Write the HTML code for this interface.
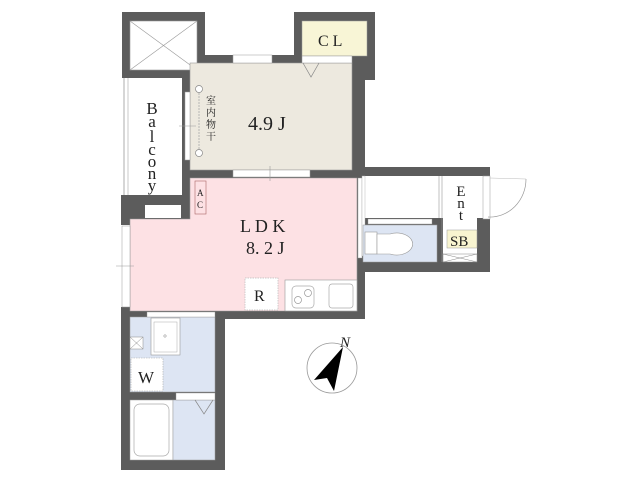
<!DOCTYPE html>
<html><head><meta charset="utf-8"><style>
html,body{margin:0;padding:0;background:#fff;}
svg{display:block;}
text{font-family:"Liberation Serif","Noto Serif CJK SC",serif;fill:#222;}
</style></head><body>
<svg width="640" height="480" viewBox="0 0 640 480" xmlns="http://www.w3.org/2000/svg">
<rect width="640" height="480" fill="#fff"/>
<g fill="#5c5c5c">
<rect x="122" y="12" width="83" height="66"/>
<rect x="182" y="55" width="8" height="165"/>
<rect x="182" y="55" width="113" height="8"/>
<rect x="294" y="12" width="81" height="68"/>
<rect x="352" y="60" width="13" height="117"/>
<rect x="182" y="170" width="183" height="8"/>
<rect x="121" y="195" width="69" height="24"/>
<rect x="121" y="195" width="9" height="30"/>
<rect x="357" y="170" width="8" height="148"/>
<rect x="215" y="311" width="150" height="8"/>
<rect x="278" y="278" width="7" height="40"/>
<rect x="121" y="307" width="104" height="163"/>
<rect x="362" y="167" width="128" height="9"/>
<rect x="360" y="218" width="78" height="54"/>
<rect x="437" y="218" width="6" height="54"/>
<rect x="477" y="218" width="13" height="54"/>
<rect x="362" y="262" width="128" height="10"/>
</g>
<rect x="130" y="21" width="67" height="49" fill="#fff" stroke="#999" stroke-width="0.6"/>
<line x1="130" y1="21" x2="197" y2="70" stroke="#999" stroke-width="0.6"/>
<line x1="197" y1="21" x2="130" y2="70" stroke="#999" stroke-width="0.6"/>
<rect x="124" y="78" width="58" height="117" fill="#fff"/>
<line x1="124" y1="78" x2="124" y2="195" stroke="#999" stroke-width="0.8"/>
<line x1="128" y1="78" x2="128" y2="195" stroke="#bbb" stroke-width="0.8"/>
<text font-size="17" text-anchor="middle">
<tspan x="152" y="114">B</tspan><tspan x="152" y="127">a</tspan><tspan x="152" y="142">l</tspan><tspan x="152" y="155">c</tspan><tspan x="152" y="167">o</tspan><tspan x="152" y="179">n</tspan><tspan x="152" y="191">y</tspan>
</text>
<rect x="190" y="63" width="162" height="107" fill="#ede9df" stroke="#999" stroke-width="0.6"/>
<rect x="233" y="55" width="39" height="8" fill="#fff" stroke="#999" stroke-width="0.5"/>
<rect x="185" y="92" width="5" height="68" fill="#fff" stroke="#999" stroke-width="0.5"/>
<line x1="179" y1="126" x2="196" y2="126" stroke="#999" stroke-width="0.6"/>
<line x1="199" y1="90" x2="199" y2="153" stroke="#aaa" stroke-width="0.8" stroke-dasharray="2 1"/>
<circle cx="199" cy="89" r="3.5" fill="#fff" stroke="#888" stroke-width="0.7"/>
<circle cx="199" cy="153" r="3.5" fill="#fff" stroke="#888" stroke-width="0.7"/>
<text x="206" y="104" font-size="10">室</text>
<text x="206" y="116" font-size="10">内</text>
<text x="206" y="128" font-size="10">物</text>
<text x="206" y="140" font-size="10">干</text>
<text x="248" y="130" font-size="20">4.9 J</text>
<rect x="302" y="21" width="65" height="35" fill="#f8f5d6" stroke="#999" stroke-width="0.5"/>
<rect x="302" y="56" width="50" height="7" fill="#fff" stroke="#999" stroke-width="0.5"/>
<text x="318" y="46" font-size="16">C L</text>
<polyline points="303,63 311,77 319,63" fill="none" stroke="#888" stroke-width="0.7"/>
<path d="M190 178 H357 V311 H130 V219 H190 Z" fill="#fde1e4" stroke="#999" stroke-width="0.6"/>
<rect x="233" y="170" width="77" height="7" fill="#fff" stroke="#999" stroke-width="0.5"/>
<line x1="270" y1="166" x2="270" y2="181" stroke="#999" stroke-width="0.6"/>
<rect x="145" y="205" width="36" height="13" fill="#fff"/>
<rect x="122" y="226" width="8" height="81" fill="#fff" stroke="#999" stroke-width="0.5"/>
<line x1="116" y1="266" x2="134" y2="266" stroke="#999" stroke-width="0.6"/>
<rect x="358" y="178" width="4" height="80" fill="#fff" stroke="#999" stroke-width="0.4"/>
<rect x="195" y="181" width="11" height="33" fill="#fde1e4" stroke="#a66" stroke-width="0.6"/>
<text x="197" y="196" font-size="9">A</text>
<text x="197" y="208" font-size="9">C</text>
<text x="240" y="232" font-size="18">L D K</text>
<text x="246" y="254" font-size="18">8. 2 J</text>
<rect x="245" y="278" width="33" height="32" fill="#fff" stroke="#bbb" stroke-width="0.7" stroke-dasharray="1.5 1"/>
<text x="254" y="301" font-size="16">R</text>
<rect x="285" y="280" width="72" height="31" fill="#fff" stroke="#999" stroke-width="0.6"/>
<rect x="292" y="286" width="22" height="22" rx="4" fill="#fff" stroke="#aaa" stroke-width="0.7"/>
<circle cx="298" cy="300" r="3.5" fill="none" stroke="#999" stroke-width="0.7"/>
<circle cx="308" cy="293" r="3.5" fill="none" stroke="#999" stroke-width="0.7"/>
<rect x="329" y="284" width="24" height="24" rx="3" fill="#fff" stroke="#aaa" stroke-width="0.7"/>
<rect x="130" y="317" width="85" height="75" fill="#dde5f3" stroke="#999" stroke-width="0.5"/>
<rect x="147" y="312" width="68" height="5" fill="#fff" stroke="#999" stroke-width="0.4"/>
<rect x="151" y="318" width="29" height="37" fill="#fff" stroke="#999" stroke-width="0.6"/>
<rect x="154" y="322" width="23" height="30" fill="none" stroke="#aaa" stroke-width="0.5"/>
<circle cx="165" cy="336" r="1.2" fill="none" stroke="#777" stroke-width="0.5"/>
<rect x="130" y="337" width="13" height="12" fill="#fff" stroke="#888" stroke-width="0.5"/>
<line x1="130" y1="337" x2="143" y2="349" stroke="#888" stroke-width="0.5"/>
<line x1="143" y1="337" x2="130" y2="349" stroke="#888" stroke-width="0.5"/>
<rect x="131" y="358" width="32" height="33" fill="#fff" stroke="#aaa" stroke-width="0.6" stroke-dasharray="1.5 1"/>
<text x="138" y="383" font-size="17">W</text>
<rect x="130" y="400" width="43" height="60" fill="#fff" stroke="#999" stroke-width="0.5"/>
<rect x="134" y="404" width="35" height="52" rx="6" fill="#fff" stroke="#aaa" stroke-width="0.7"/>
<rect x="173" y="400" width="42" height="60" fill="#dde5f3" stroke="#999" stroke-width="0.5"/>
<rect x="176" y="393" width="39" height="7" fill="#fff" stroke="#999" stroke-width="0.4"/>
<polyline points="195,400 204,414 213,400" fill="none" stroke="#888" stroke-width="0.7"/>
<rect x="362" y="176" width="78" height="42" fill="#fff"/>
<rect x="362" y="176" width="3" height="80" fill="#fff" stroke="#aaa" stroke-width="0.4"/>
<line x1="439" y1="176" x2="439" y2="218" stroke="#999" stroke-width="0.6"/>
<line x1="442" y1="176" x2="442" y2="262" stroke="#999" stroke-width="0.6"/>
<rect x="443" y="176" width="40" height="42" fill="#fff"/>
<rect x="443" y="218" width="34" height="44" fill="#fff"/>
<rect x="483" y="176" width="7" height="43" fill="#fff" stroke="#999" stroke-width="0.5"/>
<rect x="363" y="225" width="74" height="37" fill="#dde5f3" stroke="#999" stroke-width="0.5"/>
<rect x="368" y="219" width="64" height="5" fill="#fff" stroke="#999" stroke-width="0.4"/>
<rect x="365" y="232" width="12" height="22" fill="#fff" stroke="#999" stroke-width="0.6"/>
<path d="M377 234 H390 A16 11 0 1 1 390 254 H377 Z" fill="#fff" stroke="#999" stroke-width="0.6"/>
<text font-size="15" text-anchor="middle">
<tspan x="461" y="196">E</tspan><tspan x="461" y="208">n</tspan><tspan x="461" y="220">t</tspan>
</text>
<rect x="447" y="230" width="30" height="18" fill="#f8f4d0" stroke="#999" stroke-width="0.5"/>
<text x="450" y="246" font-size="15">SB</text>
<rect x="443" y="254" width="34" height="8" fill="#fff" stroke="#888" stroke-width="0.5"/>
<line x1="443" y1="254" x2="477" y2="262" stroke="#888" stroke-width="0.5"/>
<line x1="477" y1="254" x2="443" y2="262" stroke="#888" stroke-width="0.5"/>
<path d="M526 179 A36 38 0 0 1 488 217" fill="none" stroke="#999" stroke-width="0.7"/>
<line x1="490" y1="178" x2="526" y2="179" stroke="#bbb" stroke-width="0.5"/>
<circle cx="332" cy="368" r="25" fill="#fff" stroke="#999" stroke-width="0.8"/>
<polygon points="343,347 314,380 327,378 334,391" fill="#000"/>
<text x="340" y="347" font-size="15" font-style="italic">N</text>
</svg>
</body></html>
